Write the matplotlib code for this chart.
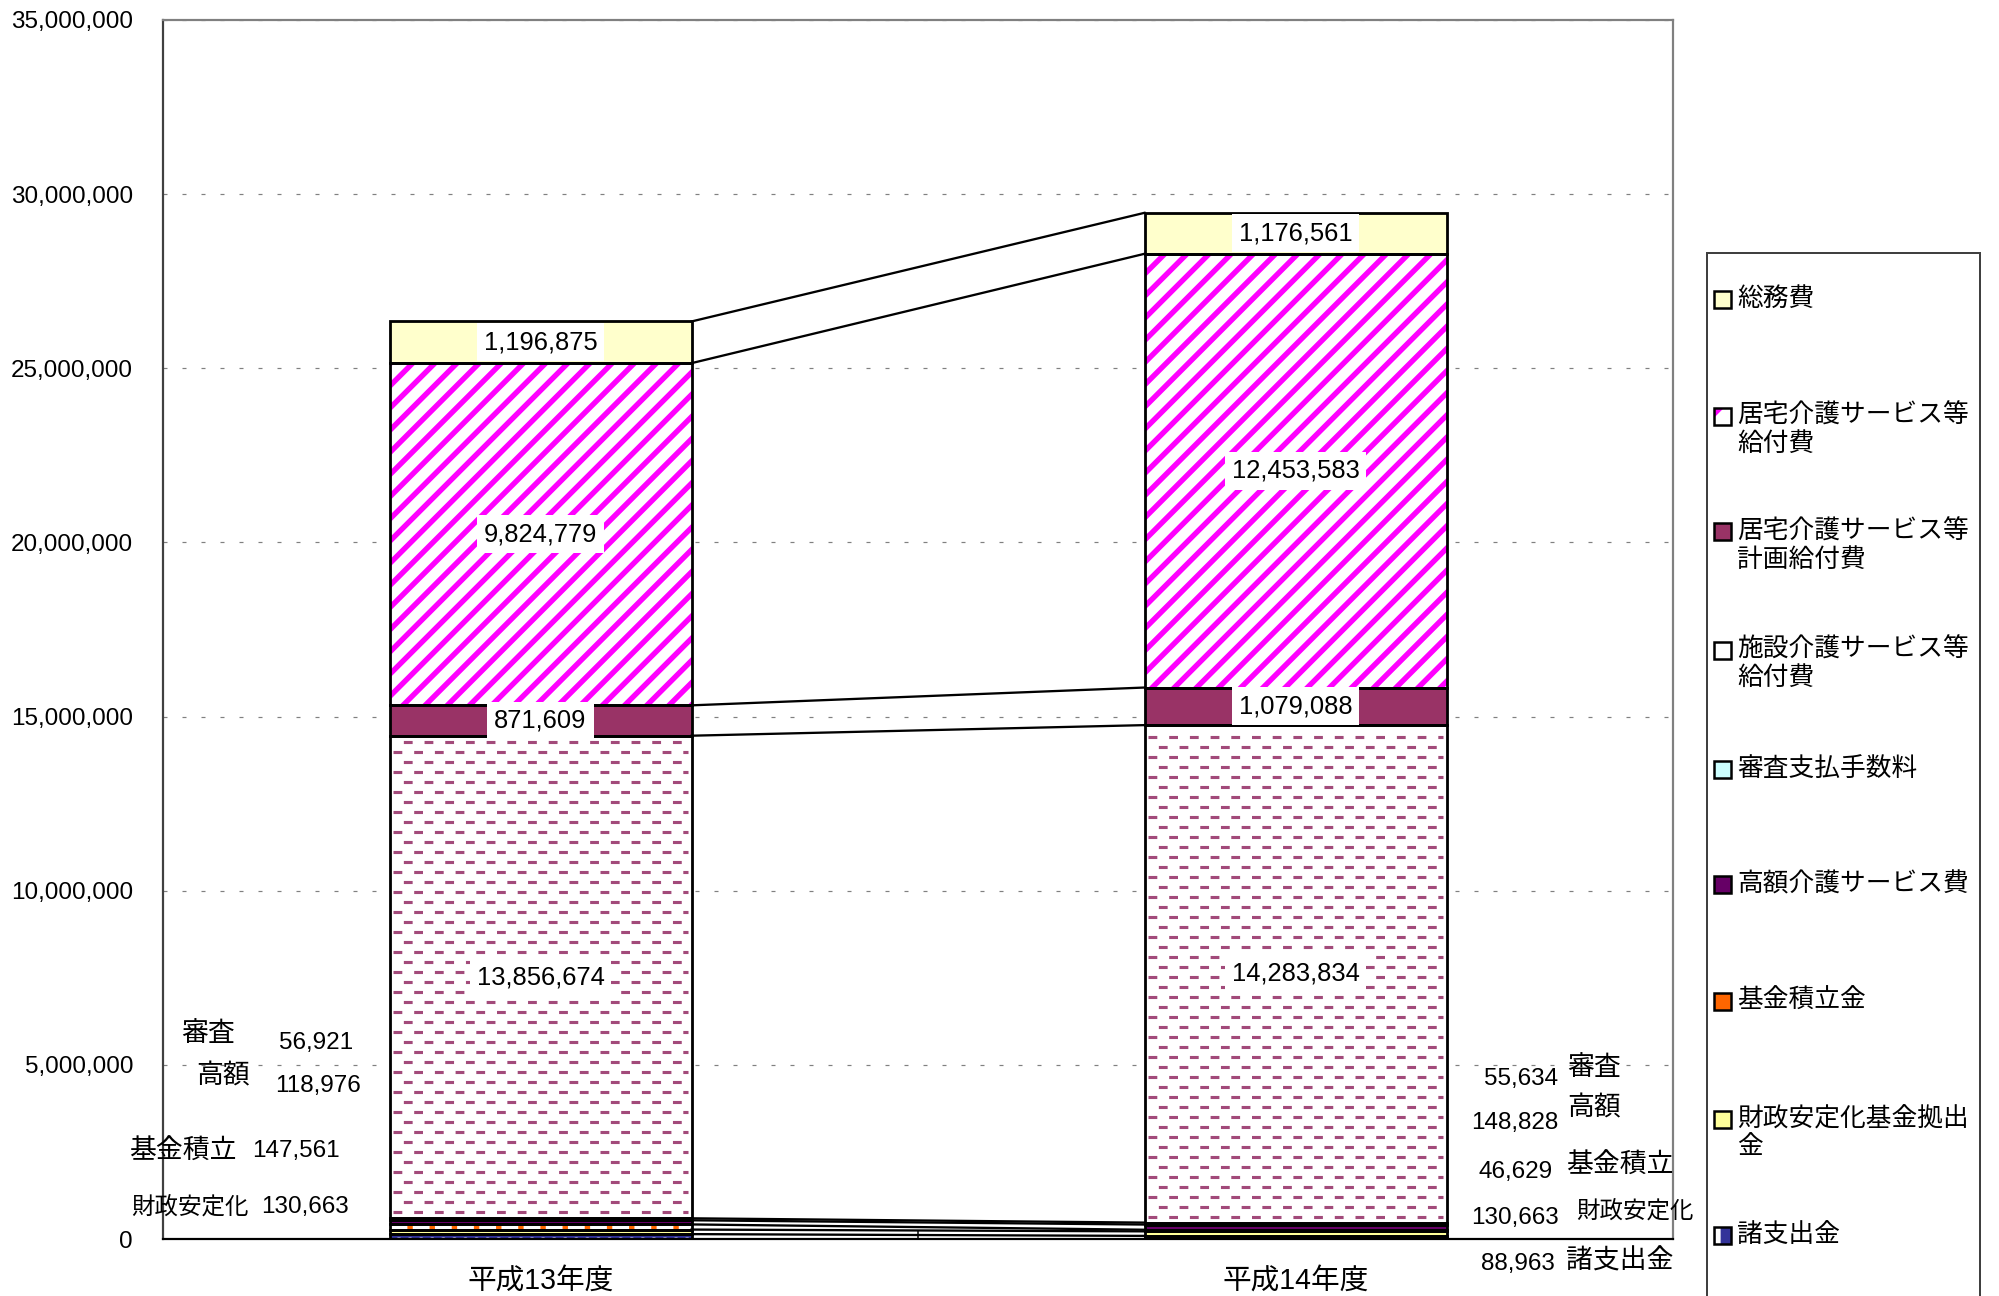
import matplotlib
matplotlib.use("Agg")
import matplotlib.pyplot as plt
import numpy as np
from matplotlib.patches import Rectangle

DPI = 400 / 3
W_PX, H_PX = 1999, 1296


def pt(px):
    # pixel size -> points at the chosen dpi
    return px * 72.0 / DPI


plt.rcParams['font.family'] = ['Liberation Sans', 'Noto Sans CJK JP']
plt.rcParams['lines.scale_dashes'] = False
plt.rcParams['hatch.linewidth'] = pt(5.4)

# ---- data (stack order: bottom -> top) ----
years = ['平成13年度', '平成14年度']
series = ['諸支出金', '財政安定化基金拠出金', '基金積立金', '高額介護サービス費', '審査支払手数料',
          '施設介護サービス等給付費', '居宅介護サービス等計画給付費', '居宅介護サービス等給付費', '総務費']
legend_text = ['諸支出金', '財政安定化基金拠出\n金', '基金積立金', '高額介護サービス費', '審査支払手数料',
               '施設介護サービス等\n給付費', '居宅介護サービス等\n計画給付費', '居宅介護サービス等\n給付費', '総務費']
h13 = [140000, 130663, 147561, 118976, 56921, 13856674, 871609, 9824779, 1196875]
h14 = [88963, 130663, 46629, 148828, 55634, 14283834, 1079088, 12453583, 1176561]
labelled = [5, 6, 7, 8]  # segments with a value label inside the bar

# face colour, hatch, hatch colour
styles = [
    ('#333399', '..', 'white'),
    ('#FFFF99', None, None),
    ('white', '|', '#FF6600'),
    ('#660066', None, None),
    ('#CCFFFF', None, None),
    ('white', None, None),
    ('#993366', None, None),
    ('white', '//', '#FF00FF'),
    ('#FFFFCC', None, None),
]
# legend swatches: face, hatch, hatch colour
swatches = [
    ('#333399', '|', 'white'),
    ('#FFFF99', None, None),
    ('#FF6600', None, None),
    ('#660066', None, None),
    ('#CCFFFF', None, None),
    ('white', None, None),
    ('#993366', None, None),
    ('white', '/', '#FF00FF'),
    ('#FFFFCC', None, None),
]
DASH_COLOR = '#A24A7A'

# side notes: text centre in data coords
side_names = [('審査', -0.440, 5.89e6), ('高額', -0.420, 4.68e6), ('基金積立', -0.474, 2.51e6),
              ('財政安定化', -0.464, 0.91e6),
              ('審査', 1.395, 4.91e6), ('高額', 1.395, 3.75e6), ('基金積立', 1.430, 2.10e6),
              ('財政安定化', 1.449, 0.80e6), ('諸支出金', 1.429, -0.65e6)]
# (series index, year index, x, y)
side_values = [(4, 0, -0.297, 5.63e6), (3, 0, -0.295, 4.39e6), (2, 0, -0.324, 2.53e6),
               (1, 0, -0.312, 0.92e6),
               (4, 1, 1.299, 4.59e6), (3, 1, 1.290, 3.34e6), (2, 1, 1.291, 1.92e6),
               (1, 1, 1.291, 0.60e6), (0, 1, 1.295, -0.72e6)]

legend_y = [1235, 1119, 1001, 884, 769, 650, 532, 416, 299]  # px, first text line centre

fig = plt.figure(figsize=(W_PX / DPI, H_PX / DPI), dpi=DPI)
ax = fig.add_axes([163 / W_PX, 1 - 1239 / H_PX, (1673 - 163) / W_PX, (1239 - 20) / H_PX])

x = np.array([0, 1])
width = 0.4
vals = np.array([h13, h14]).T  # shape (series, year)
bottoms = np.vstack([np.zeros(2), np.cumsum(vals, axis=0)[:-1]])
tops = np.cumsum(vals, axis=0)

ax.set_xlim(-0.5, 1.5)
ax.set_ylim(0, 35e6)
px_per_val = (1239 - 20) / 35e6

for i, name in enumerate(series):
    face, hatch, hc = styles[i]
    ax.bar(x, vals[i], width, bottom=bottoms[i], color=face, hatch=hatch,
           edgecolor=hc if hc else face, linewidth=0, zorder=2)
    ax.bar(x, vals[i], width, bottom=bottoms[i], fill=False, edgecolor='black',
           linewidth=pt(2.8), zorder=3)

# dashed texture of 施設介護サービス等給付費
k = series.index('施設介護サービス等給付費')
step = 10 / px_per_val
for j in range(2):
    ys = np.arange(bottoms[k, j] + 6 / px_per_val, tops[k, j] - 4 / px_per_val, step)
    for r, yy in enumerate(ys):
        off = 0 if r % 2 == 0 else pt(10.35)
        ax.hlines(yy, x[j] - width / 2 + 0.004, x[j] + width / 2 - 0.004, colors=DASH_COLOR,
                  linewidth=pt(3.1), linestyles=[(off, (pt(8.8), pt(11.9)))], zorder=2.5)

# series lines between the two bars
for lvl in range(len(series)):
    ax.plot([x[0] + width / 2, x[1] - width / 2], [tops[lvl, 0], tops[lvl, 1]],
            color='black', linewidth=pt(2.3), zorder=3)

# value labels inside bars
for i in labelled:
    for j in range(2):
        ax.text(x[j], bottoms[i, j] + vals[i, j] / 2, f'{vals[i, j]:,}', ha='center', va='center',
                fontsize=13.8, zorder=5,
                bbox=dict(facecolor='white', edgecolor='none', pad=pt(7)))

# side notes for thin segments
for name, tx, ty in side_names:
    fs = 12.7 if name == '財政安定化' else 14.5
    ax.text(tx, ty, name, ha='center', va='center', fontsize=fs, clip_on=False, zorder=5)
for i, j, tx, ty in side_values:
    ax.text(tx, ty, f'{vals[i, j]:,}', ha='center', va='center', fontsize=13.1,
            clip_on=False, zorder=5)

# axes styling
ax.set_yticks(np.arange(0, 35e6 + 1, 5e6))
ax.set_yticklabels([f'{int(v):,}' for v in np.arange(0, 35e6 + 1, 5e6)], fontsize=13.1)
ax.set_xticks(x)
ax.set_xticklabels(years, fontsize=15.5)
ax.set_xticks([0.5], minor=True)
ax.tick_params(axis='y', length=0, pad=pt(30))
ax.tick_params(axis='x', which='major', length=0, pad=pt(28))
ax.tick_params(axis='x', which='minor', direction='in', length=pt(9), width=pt(1.5), color='black')
ax.yaxis.grid(True, linestyle=(0, (pt(4), pt(15))), color='#808080', linewidth=pt(1.2))
ax.set_axisbelow(True)
ax.spines['left'].set_color('#404040')
ax.spines['bottom'].set_color('black')
ax.spines['top'].set_color('#808080')
ax.spines['right'].set_color('#808080')
for s in ax.spines.values():
    s.set_linewidth(pt(2.2))

# legend drawn by hand
fig.patches.append(Rectangle((1707 / W_PX, -0.05), (1980 - 1707) / W_PX, (1296 - 253) / H_PX + 0.05,
                             transform=fig.transFigure, fill=False, edgecolor='#404040',
                             linewidth=pt(2)))
for i, txt in enumerate(legend_text):
    cy = legend_y[i]
    face, hatch, hc = swatches[i]
    box = (1714 / W_PX, 1 - (cy + 8.5) / H_PX)
    fig.patches.append(Rectangle(box, 17 / W_PX, 17 / H_PX, transform=fig.transFigure,
                                 facecolor=face, hatch=hatch, edgecolor=hc if hc else face,
                                 linewidth=0))
    fig.patches.append(Rectangle(box, 17 / W_PX, 17 / H_PX, transform=fig.transFigure,
                                 fill=False, edgecolor='black', linewidth=pt(2.5)))
    for n, line in enumerate(txt.split('\n')):
        fig.text(1737 / W_PX, 1 - (cy + 28 * n) / H_PX, line, ha='left', va='center',
                 fontsize=13.9)

fig.savefig('out.png', dpi=DPI)
